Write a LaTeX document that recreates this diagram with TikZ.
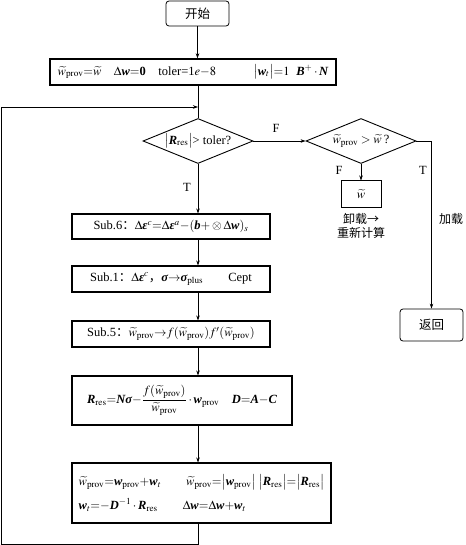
\documentclass[tikz,border=0pt]{standalone}
\usepackage{amsmath}
\usepackage{mathptmx}
\usepackage[no-math]{fontspec}
\setmainfont{Liberation Serif}
\newfontfamily\cjk{Noto Sans CJK SC}
\usetikzlibrary{shapes.geometric,arrows.meta}
\newcommand{\vb}[1]{\text{\bfseries\itshape #1}}
\newcommand{\wt}{\widetilde{w}}
\newcommand{\pv}{_{\mathrm{prov}}}
\newcommand{\rs}{_{\mathrm{res}}}
\begin{document}
\begin{tikzpicture}[x=1pt,y=-1pt,
  every node/.style={font=\fontsize{12.5}{14}\selectfont},
  box/.style={draw, line width=1.1pt, inner sep=0pt},
  rbox/.style={draw, rounded corners=3pt, line width=0.8pt, inner sep=0pt},
  dia/.style={draw, diamond, shape aspect=2.44, line width=0.9pt, minimum width=110pt, minimum height=45pt, inner sep=0pt},
  conn/.style={line width=0.6pt},
  arr/.style={conn, -{Stealth[length=5pt,width=3.5pt]}},
  lab/.style={inner sep=0pt}]
\useasboundingbox (0,0) rectangle (465,545);
\node[rbox, minimum width=63pt, minimum height=25pt] (start) at (197.5,13.5) {\cjk 开始};
\node[box, line width=1.4pt, minimum width=286pt, minimum height=26pt] (init) at (193,72)
  {$\wt\pv{=}\wt$\quad $\Delta\vb{w}{=}\textbf{0}$\quad toler=1$e{-}8$\qquad\quad $\bigl|\vb{w}_t\bigr|{=}1$\; $\vb{B}^{+}\cdot\vb{N}$};
\node[dia] (d1) at (198,141) {$\bigl|\vb{R}\rs\bigr|$> toler?};
\node[dia] (d2) at (361,141) {$\wt\pv > \wt$\,?};
\node[box, line width=1pt, minimum width=40pt, minimum height=26pt] (wb) at (361,194) {$\wt$};
\node[lab, align=center, font=\cjk\fontsize{12}{14.5}\selectfont] (wlab) at (361,226) {卸载→\\重新计算};
\node[rbox, minimum width=63pt, minimum height=32pt] (ret) at (431.5,325) {\cjk 返回};
\node[box, minimum width=198pt, minimum height=25pt] (s6) at (171,226.5)
  {Sub.6{\cjk ：}$\Delta\vb{ε}^{c}{=}\Delta\vb{ε}^{a}{-}(\vb{b}{+}\otimes\Delta\vb{w})_s$};
\node[box, minimum width=198pt, minimum height=26pt] (s1) at (171,279)
  {Sub.1{\cjk ：}$\Delta\vb{ε}^{c}${\cjk ，}$\vb{σ}{\to}\vb{σ}_{\mathrm{plus}}$\qquad Cept};
\node[box, minimum width=198pt, minimum height=26pt] (s5) at (171,334)
  {Sub.5{\cjk ：}$\wt\pv{\to} f(\wt\pv)f'(\wt\pv)$};
\node[box, minimum width=220pt, minimum height=49pt] (rr) at (182,400.5)
  {$\vb{R}\rs{=}\vb{N}\vb{σ}{-}\dfrac{f(\wt\pv)}{\wt\pv}\cdot\vb{w}\pv$\quad $\vb{D}{=}\vb{A}{-}\vb{C}$};
\node[box, minimum width=259pt, minimum height=60pt, align=left] (last) at (201.5,493)
  {$\wt\pv{=}\vb{w}\pv{+}\vb{w}_t$\qquad $\wt\pv{=}\bigl|\vb{w}\pv\bigr|$\ $\bigl|\vb{R}\rs\bigr|{=}\bigl|\vb{R}\rs\bigr|$\\[8pt]
   $\vb{w}_t{=}{-}\vb{D}^{-1}\cdot\vb{R}\rs$\qquad $\Delta\vb{w}{=}\Delta\vb{w}{+}\vb{w}_t$};
\coordinate (lb) at (1,544);
\coordinate (lt) at (198,107);
\draw[arr] (start.south) -- (start.south |- init.north);
\draw[conn] (d1 |- init.south) -- (d1.north);
\draw[arr] (d1 |- last.south) |- (lb) |- (lt);
\draw[arr] (d1.east) -- (d2.west);
\draw[arr] (d2.east) -| (ret.north);
\draw[arr] (d2.south) -- (wb.north);
\draw[arr] (d1.south) -- (d1 |- s6.north);
\draw[arr] (d1 |- s6.south) -- (d1 |- s1.north);
\draw[arr] (d1 |- s1.south) -- (d1 |- s5.north);
\draw[arr] (d1 |- s5.south) -- (d1 |- rr.north);
\draw[arr] (d1 |- rr.south) -- (d1 |- last.north);
\node[lab] (lf1) at (276,128) {F};
\node[lab] (lt1) at (187,187) {T};
\node[lab] (lf2) at (339,170) {F};
\node[lab] (lt2) at (423,170) {T};
\node[lab, font=\cjk\fontsize{12}{14.5}\selectfont] (jz) at (451,219) {加载};
\end{tikzpicture}
\end{document}
